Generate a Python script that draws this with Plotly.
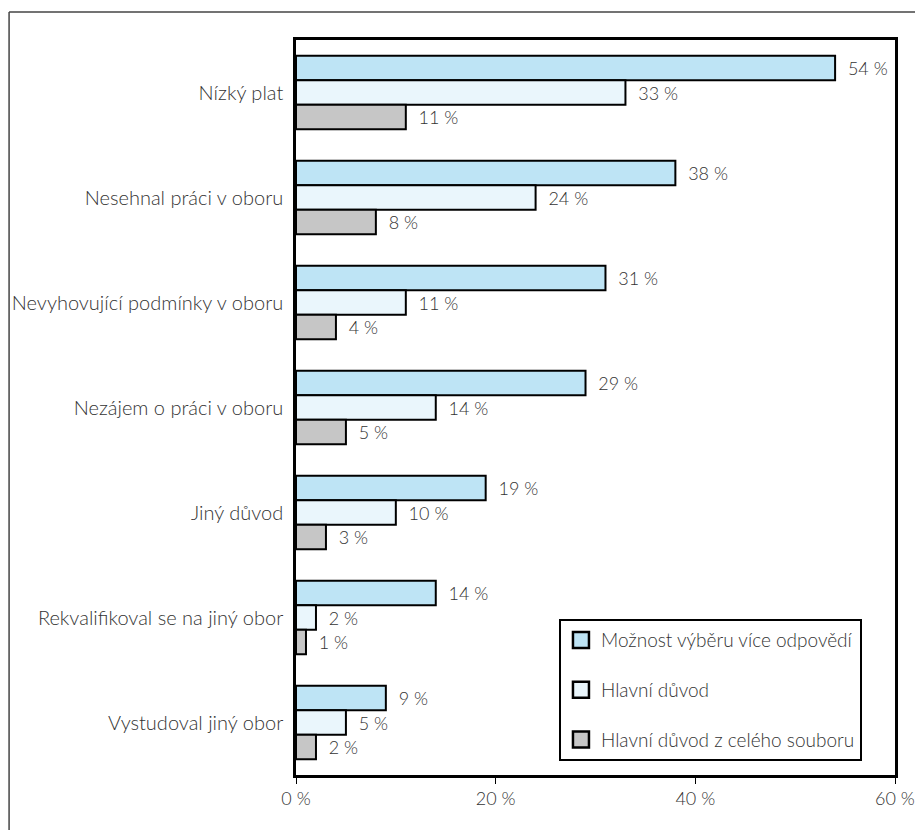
import plotly.graph_objects as go

categories = [
    "Nízký plat",
    "Nesehnal práci v oboru",
    "Nevyhovující podmínky v oboru",
    "Nezájem o práci v oboru",
    "Jiný důvod",
    "Rekvalifikoval se na jiný obor",
    "Vystudoval jiný obor",
]
series_names = [
    "Možnost výběru více odpovědí",
    "Hlavní důvod",
    "Hlavní důvod z celého souboru",
]
multi_choice = [54, 38, 31, 29, 19, 14, 9]
main_reason = [33, 24, 11, 14, 10, 2, 5]
main_reason_all = [11, 8, 4, 5, 3, 1, 2]
x_ticks = [0, 20, 40, 60]
x_tick_labels = ["0 %", "20 %", "40 %", "60 %"]

colors = ["#BEE4F5", "#EAF6FC", "#C6C6C6"]
FONT = "Lato"
TXT = "#333333"

fig = go.Figure()
for name, vals, col in zip(series_names, [multi_choice, main_reason, main_reason_all], colors):
    fig.add_trace(go.Bar(
        y=categories, x=vals, name=name, orientation="h",
        marker=dict(color=col, line=dict(color="black", width=2)),
        text=[f"\u00a0\u00a0{v} %" for v in vals], textposition="outside",
        constraintext="none", cliponaxis=False,
        textfont=dict(family=FONT, size=18, color=TXT, weight=300),
        showlegend=False,
    ))
# legend entries with square swatches
for name, col in zip(series_names, colors):
    fig.add_trace(go.Scatter(
        x=[None], y=[None], mode="markers", name=name,
        marker=dict(symbol="square", size=16, color=col, line=dict(color="black", width=2.5)),
        legendgroup=name, showlegend=True,
    ))

fig.update_layout(
    width=915, height=822,
    margin=dict(l=288, r=28, t=32, b=55),
    paper_bgcolor="white", plot_bgcolor="white",
    barmode="group", bargap=0.3, bargroupgap=0,
    font=dict(family=FONT, size=18, color=TXT, weight=300),
    showlegend=True,
    legend=dict(
        x=0.439, y=0.212, xanchor="left", yanchor="top",
        bordercolor="black", borderwidth=2, bgcolor="white",
        traceorder="grouped", tracegroupgap=22,
        entrywidth=283, entrywidthmode="pixels",
        font=dict(family=FONT, size=19, color=TXT, weight=300),
    ),
    xaxis=dict(
        range=[0, 60], tickvals=x_ticks, ticktext=x_tick_labels,
        showgrid=False, zeroline=False, automargin=False,
        showline=True, linecolor="black", linewidth=2.5, mirror=True,
        ticks="outside", ticklen=6, tickcolor="black", tickwidth=1,
        tickfont=dict(family=FONT, size=18, color=TXT, weight=300),
    ),
    yaxis=dict(
        autorange="reversed", showgrid=False, zeroline=False, automargin=False,
        showline=True, linecolor="black", linewidth=2.5, mirror=True,
        ticks="", ticklabelstandoff=6,
        tickfont=dict(family=FONT, size=20, color=TXT, weight=300),
    ),
    shapes=[
        dict(type="line", xref="paper", yref="paper", x0=-0.479, x1=-0.479, y0=1.038, y1=-0.2,
             line=dict(color="#444444", width=1.5)),
        dict(type="line", xref="paper", yref="paper", x0=-0.479, x1=1.2, y0=1.038, y1=1.038,
             line=dict(color="#444444", width=1.5)),
    ],
)

fig.write_html("out.html")
